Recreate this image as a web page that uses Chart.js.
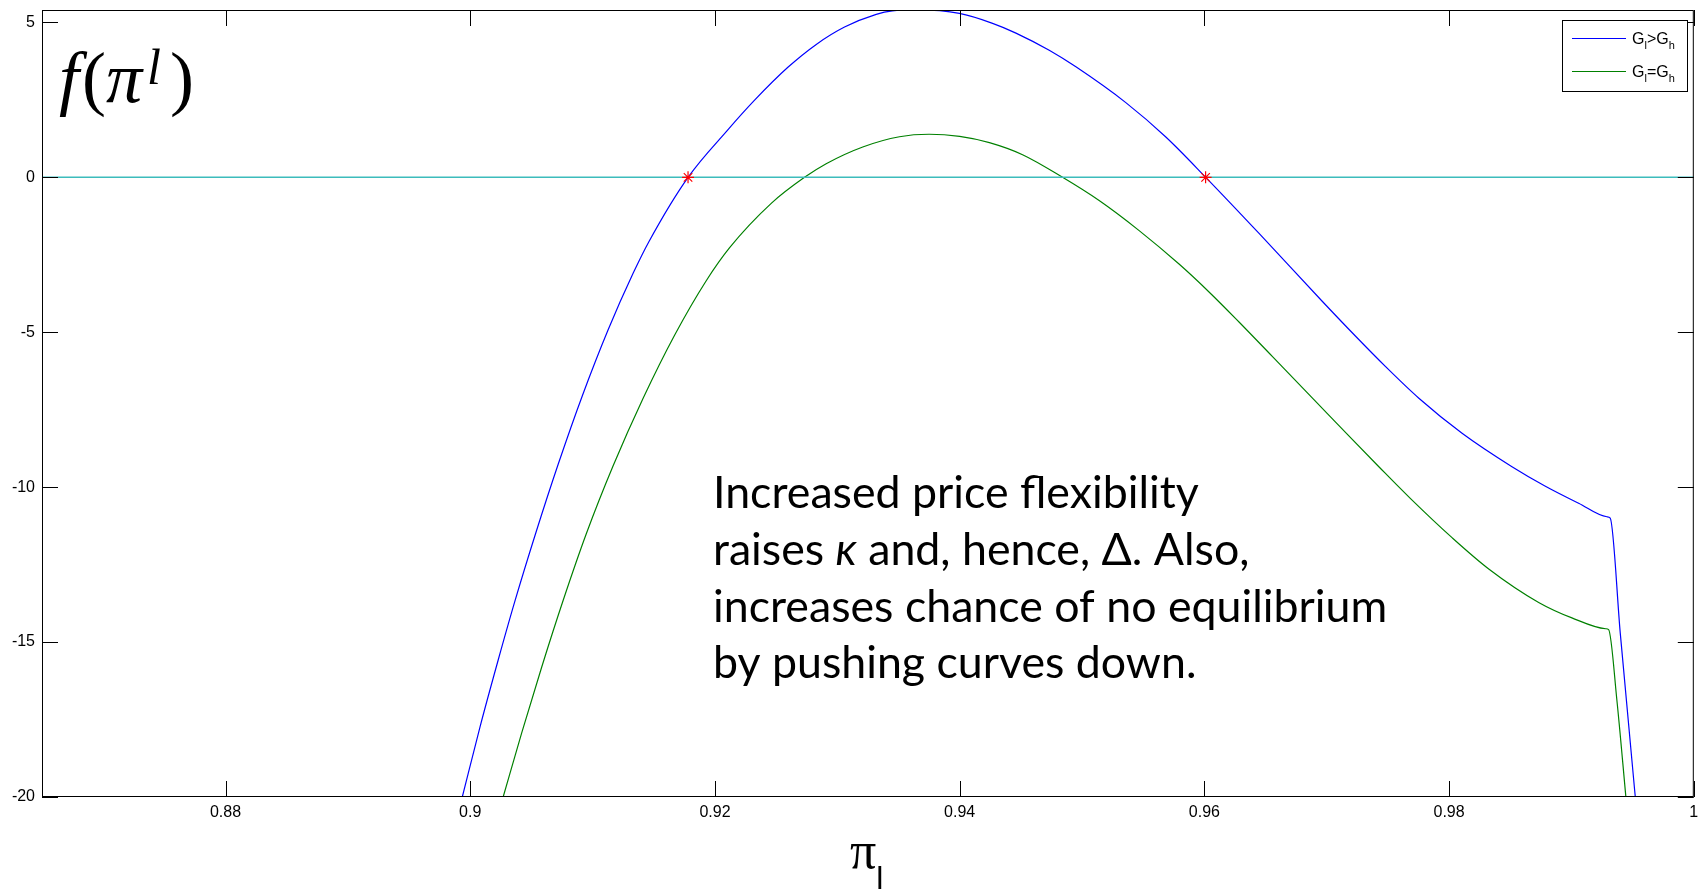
<!DOCTYPE html>
<html>
<head>
<meta charset="utf-8">
<script src="https://cdn.jsdelivr.net/npm/chart.js@4.4.1/dist/chart.umd.min.js"></script>
<style>
body { margin: 0; background: #fff; }
#wrap { width: 1701px; height: 891px; }
</style>
</head>
<body>
<div id="wrap"><canvas id="myChart" width="1701" height="891"></canvas></div>
<script>
// values
const xTicks = [0.88, 0.9, 0.92, 0.94, 0.96, 0.98, 1];
const yTicks = [-20, -15, -10, -5, 0, 5];

const blueX = [0.89935, 0.90079, 0.90229, 0.90365, 0.90542, 0.90718, 0.90917, 0.91127, 0.91331, 0.91461, 0.9178,
    0.92098, 0.92324, 0.92596, 0.92828, 0.93059, 0.93318, 0.9345, 0.9365, 0.93998, 0.94269, 0.9446, 0.94732,
    0.9495, 0.95358, 0.95685, 0.96011, 0.96447, 0.96963, 0.97236, 0.97481, 0.97753, 0.98106, 0.98514, 0.98787,
    0.99059, 0.9929, 0.99317, 0.99399, 0.99516, 0.99522];
const blueY = [-20, -17.75, -15.57, -13.68, -11.40, -9.27, -7.04, -4.92, -3.10, -2.07, 0,
    1.50, 2.49, 3.55, 4.29, 4.85, 5.26, 5.37, 5.40, 5.29, 4.97, 4.655, 4.10,
    3.565, 2.41, 1.30, 0, -1.81, -4.0, -5.13, -6.11, -7.13, -8.26, -9.34, -9.97,
    -10.52, -10.955, -11.0, -14.71, -19.76, -20];

const greenX = [0.90269, 0.9042, 0.90583, 0.90759, 0.9095, 0.91167, 0.91412, 0.91671, 0.9193, 0.9212, 0.9246,
    0.92732, 0.92909, 0.93208, 0.93508, 0.9375, 0.9400, 0.94243, 0.94514, 0.94841, 0.9514, 0.95467, 0.95793, 0.96038,
    0.96283, 0.96555, 0.96909, 0.97167, 0.97426, 0.97685, 0.98024, 0.98324, 0.98732, 0.99004, 0.9928, 0.99304,
    0.99371, 0.99445];
const greenY = [-20, -17.94, -15.82, -13.66, -11.49, -9.32, -7.14, -5.09, -3.33, -2.27, -0.84,
    0, 0.44, 0.98, 1.31, 1.39, 1.32, 1.12, 0.73, 0, -0.75, -1.72, -2.80, -3.70,
    -4.67, -5.78, -7.23, -8.29, -9.34, -10.37, -11.63, -12.64, -13.72, -14.22, -14.57, -14.6,
    -16.86, -20];

const zeroX = [0.865, 1];
const zeroY = [0, 0];

const rootX = [0.9178, 0.9601];
const rootY = [0, 0];

const noteLines = ['Increased price flexibility', 'raises ', 'increases chance of no equilibrium', 'by pushing curves down.'];

function pts(xs, ys) {
    return xs.map((x, i) => ({ x: x, y: ys[i] }));
}

const frame = {
    id: 'frame',
    afterDraw(chart) {
        const c = chart.ctx;
        const a = chart.chartArea;
        const xs = chart.scales.x;
        const ys = chart.scales.y;
        c.save();
        // box
        c.strokeStyle = '#000';
        c.lineWidth = 1;
        c.strokeRect(a.left + 0.5, a.top + 0.5, a.right - a.left - 1, a.bottom - a.top - 1);
        // inward ticks
        c.beginPath();
        xTicks.forEach(v => {
            const p = Math.round(xs.getPixelForValue(v)) + 0.5;
            c.moveTo(p, a.bottom); c.lineTo(p, a.bottom - 16);
            c.moveTo(p, a.top); c.lineTo(p, a.top + 16);
        });
        yTicks.forEach(v => {
            const p = Math.round(ys.getPixelForValue(v)) + 0.5;
            c.moveTo(a.left, p); c.lineTo(a.left + 16, p);
            c.moveTo(a.right, p); c.lineTo(a.right - 16, p);
        });
        c.stroke();

        // legend
        const lx = 1562, ly = 20, lw = 125, lh = 71;
        c.fillStyle = '#fff';
        c.fillRect(lx, ly, lw, lh);
        c.strokeRect(lx + 0.5, ly + 0.5, lw, lh);
        const rows = [[chart.data.datasets[2], '>', 38], [chart.data.datasets[3], '=', 71]];
        rows.forEach(r => {
            c.strokeStyle = r[0].borderColor;
            c.beginPath();
            c.moveTo(1572, r[2] + 0.5); c.lineTo(1626, r[2] + 0.5);
            c.stroke();
            c.fillStyle = '#000';
            c.textBaseline = 'alphabetic';
            let x = 1632;
            const base = r[2] + 6;
            const part = (t, size, dy) => {
                c.font = size + 'px "Liberation Sans", Arial';
                c.fillText(t, x, base + dy);
                x += c.measureText(t).width;
            };
            part('G', 16, 0); part('l', 11, 5); part(r[1], 16, 0); part('G', 16, 0); part('h', 11, 5);
        });

        // f(pi^l)
        c.fillStyle = '#000';
        let x = 59;
        const seg = (t, font, y) => {
            c.font = font;
            c.fillText(t, x, y);
            x += c.measureText(t).width;
        };
        seg('f', 'italic 72px "Liberation Serif"', 102);
        x += 3;
        seg('(', '72px "Liberation Serif"', 102);
        seg('\u03c0', 'italic 72px "Liberation Serif"', 102);
        x += 5;
        seg('l', 'italic 50px "Liberation Serif"', 84);
        x += 9;
        seg(')', '72px "Liberation Serif"', 102);

        // x label pi_l
        x = 850;
        seg('\u03c0', '52px "Liberation Serif"', 868);
        seg('l', '32px "Liberation Sans"', 889);

        // note text, fitted to the width of the longest line
        c.font = '100px Lato';
        const size = 100 * 675 / c.measureText(noteLines[2]).width;
        const f = size.toFixed(1) + 'px Lato';
        const fi = 'italic ' + f;
        const baseY = [508, 565, 622, 678];
        x = 713; seg(noteLines[0], f, baseY[0]);
        x = 713; seg(noteLines[1], f, baseY[1]); seg('\u03ba', fi, baseY[1]); seg(' and, hence, \u0394. Also,', f, baseY[1]);
        x = 713; seg(noteLines[2], f, baseY[2]);
        x = 713; seg(noteLines[3], f, baseY[3]);
        c.restore();
    }
};

const tickFont = { family: '"Liberation Sans", Arial', size: 16 };

const ctx = document.getElementById('myChart').getContext('2d');
const myChart = new Chart(ctx, {
    type: 'line',
    data: {
        datasets: [
            {
                label: 'roots',
                data: pts(rootX, rootY),
                showLine: false,
                pointStyle: 'star',
                pointRadius: 6,
                borderColor: '#ff0000',
                borderWidth: 1.2,
                order: 0
            },
            {
                label: 'zero',
                data: pts(zeroX, zeroY),
                borderColor: '#3cbcbc',
                borderWidth: 1.5,
                pointRadius: 0,
                order: 1
            },
            {
                label: 'Gl>Gh',
                data: pts(blueX, blueY),
                borderColor: '#0000ff',
                borderWidth: 1.2,
                pointRadius: 0,
                cubicInterpolationMode: 'monotone',
                order: 2
            },
            {
                label: 'Gl=Gh',
                data: pts(greenX, greenY),
                borderColor: '#008000',
                borderWidth: 1.2,
                pointRadius: 0,
                cubicInterpolationMode: 'monotone',
                order: 3
            }
        ]
    },
    options: {
        responsive: false,
        animation: false,
        layout: { padding: { top: 10, right: 6, left: 0, bottom: 0 } },
        plugins: {
            legend: { display: false },
            tooltip: { enabled: false }
        },
        scales: {
            x: {
                type: 'linear',
                min: 0.865,
                max: 1,
                grid: { display: false, drawTicks: false },
                border: { display: false },
                ticks: { padding: 6, color: '#000', font: tickFont, maxRotation: 0, autoSkip: false, callback: v => String(v) },
                afterBuildTicks: s => { s.ticks = xTicks.map(v => ({ value: v })); },
                afterFit: s => { s.height = 94; s.paddingLeft = 0; s.paddingRight = 0; }
            },
            y: {
                min: -20,
                max: 5.4,
                grid: { display: false, drawTicks: false },
                border: { display: false },
                ticks: { padding: 7, color: '#000', font: tickFont, autoSkip: false, callback: v => String(v) },
                afterBuildTicks: s => { s.ticks = yTicks.map(v => ({ value: v })); },
                afterFit: s => { s.width = 42; s.paddingTop = 0; s.paddingBottom = 0; }
            }
        }
    },
    plugins: [frame]
});
</script>
</body>
</html>
